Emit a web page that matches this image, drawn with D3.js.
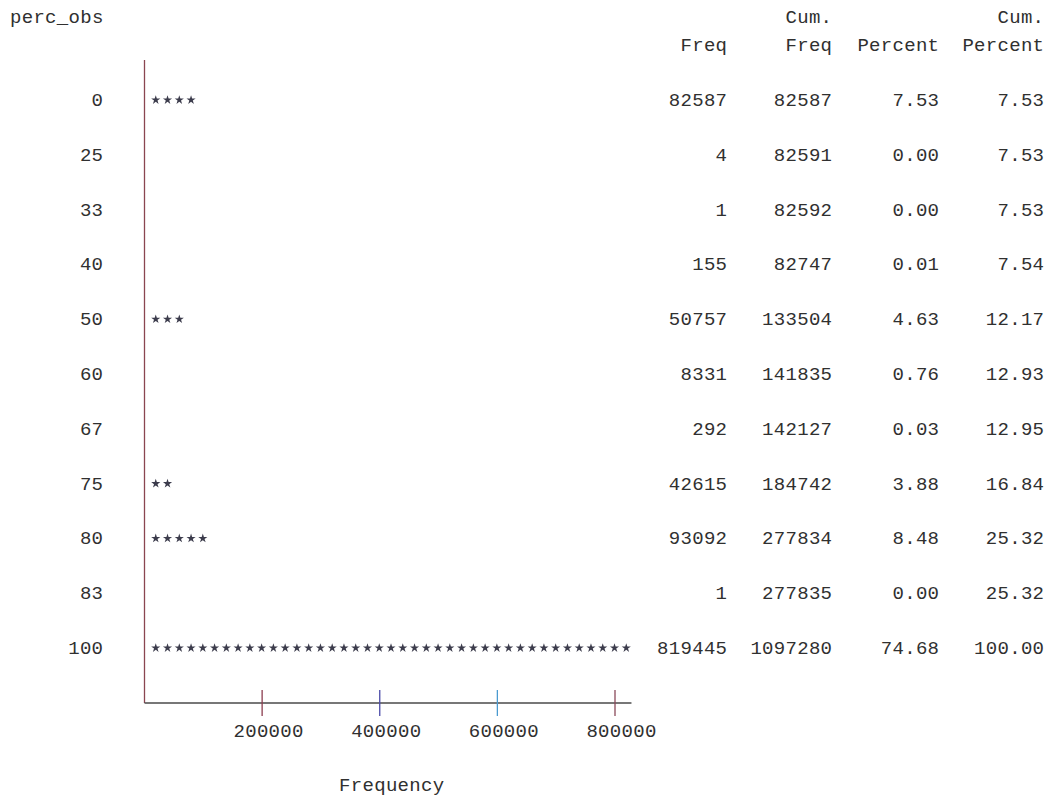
<!DOCTYPE html>
<html>
<head>
<meta charset="utf-8">
<script src="https://cdn.jsdelivr.net/npm/d3@7"></script>
<style>
  html, body { margin: 0; padding: 0; background: #fff; }
  text { font-family: "Liberation Mono", "DejaVu Sans Mono", monospace; font-size: 19px; letter-spacing: 0.3px; fill: #303030; }
</style>
</head>
<body>
<svg id="chart" width="1049" height="799"></svg>
<script>
const categories = ["0", "25", "33", "40", "50", "60", "67", "75", "80", "83", "100"];
const freq = [82587, 4, 1, 155, 50757, 8331, 292, 42615, 93092, 1, 819445];
const cumFreq = [82587, 82591, 82592, 82747, 133504, 141835, 142127, 184742, 277834, 277835, 1097280];
const percent = ["7.53", "0.00", "0.00", "0.01", "4.63", "0.76", "0.03", "3.88", "8.48", "0.00", "74.68"];
const cumPercent = ["7.53", "7.53", "7.53", "7.54", "12.17", "12.93", "12.95", "16.84", "25.32", "25.32", "100.00"];
const xTicks = [200000, 400000, 600000, 800000];
const starUnit = 20000;
const varName = "perc_obs";
const axisTitle = "Frequency";

const svg = d3.select("#chart");

const x = d3.scaleLinear().domain([0, 800000]).range([144.5, 615]);
const y = d3.scalePoint().domain(categories).range([100, 648]);

const axisTop = 60, axisY = 703;
const axisEnd = 828000;

// vertical axis
svg.append("line")
  .attr("x1", x(0)).attr("x2", x(0))
  .attr("y1", axisTop).attr("y2", axisY)
  .attr("stroke", "#8a4650").attr("stroke-width", 1.3);

// horizontal axis
svg.append("line")
  .attr("x1", x(0)).attr("x2", x(axisEnd))
  .attr("y1", axisY).attr("y2", axisY)
  .attr("stroke", "#4a4a4a").attr("stroke-width", 1.3);

const tickColors = ["#8c3d4f", "#4a4aa8", "#4a9ad0", "#8a4a5a"];
svg.selectAll(".tick").data(xTicks).join("line")
  .attr("class", "tick")
  .attr("x1", d => x(d)).attr("x2", d => x(d))
  .attr("y1", axisY - 13).attr("y2", axisY + 13)
  .attr("stroke", (d, i) => tickColors[i]).attr("stroke-width", 1.3);

svg.selectAll(".ticklabel").data(xTicks).join("text")
  .attr("class", "ticklabel")
  .attr("x", d => x(d) + 6.5).attr("y", 737)
  .attr("text-anchor", "middle")
  .text(d => d);

svg.append("text")
  .attr("x", x(400000) + 12).attr("y", 791)
  .attr("text-anchor", "middle")
  .text(axisTitle);

// variable name
svg.append("text").attr("x", 10).attr("y", 23).text(varName);

// category labels
svg.selectAll(".cat").data(categories).join("text")
  .attr("class", "cat")
  .attr("x", 103.3).attr("y", d => y(d) + 6)
  .attr("text-anchor", "end")
  .text(d => d);

// stars
const starSym = d3.symbol().type(d3.symbolStar).size(26);
categories.forEach((c, ci) => {
  const n = Math.round(freq[ci] / starUnit);
  const pts = d3.range(1, n + 1);
  svg.selectAll(".star" + ci).data(pts).join("path")
    .attr("transform", i => `translate(${x(i * starUnit) - 0.5},${y(c)})`)
    .attr("d", starSym)
    .attr("fill", "#3c3c4c");
});

// table
const cols = [
  { x: 727.3, h1: "", h2: "Freq", vals: freq },
  { x: 832.3, h1: "Cum.", h2: "Freq", vals: cumFreq },
  { x: 939.3, h1: "", h2: "Percent", vals: percent },
  { x: 1044.3, h1: "Cum.", h2: "Percent", vals: cumPercent }
];
cols.forEach(col => {
  svg.append("text").attr("x", col.x).attr("y", 23).attr("text-anchor", "end").text(col.h1);
  svg.append("text").attr("x", col.x).attr("y", 51).attr("text-anchor", "end").text(col.h2);
  svg.selectAll(null).data(categories).join("text")
    .attr("x", col.x).attr("y", d => y(d) + 6)
    .attr("text-anchor", "end")
    .text((d, i) => col.vals[i]);
});
</script>
</body>
</html>
